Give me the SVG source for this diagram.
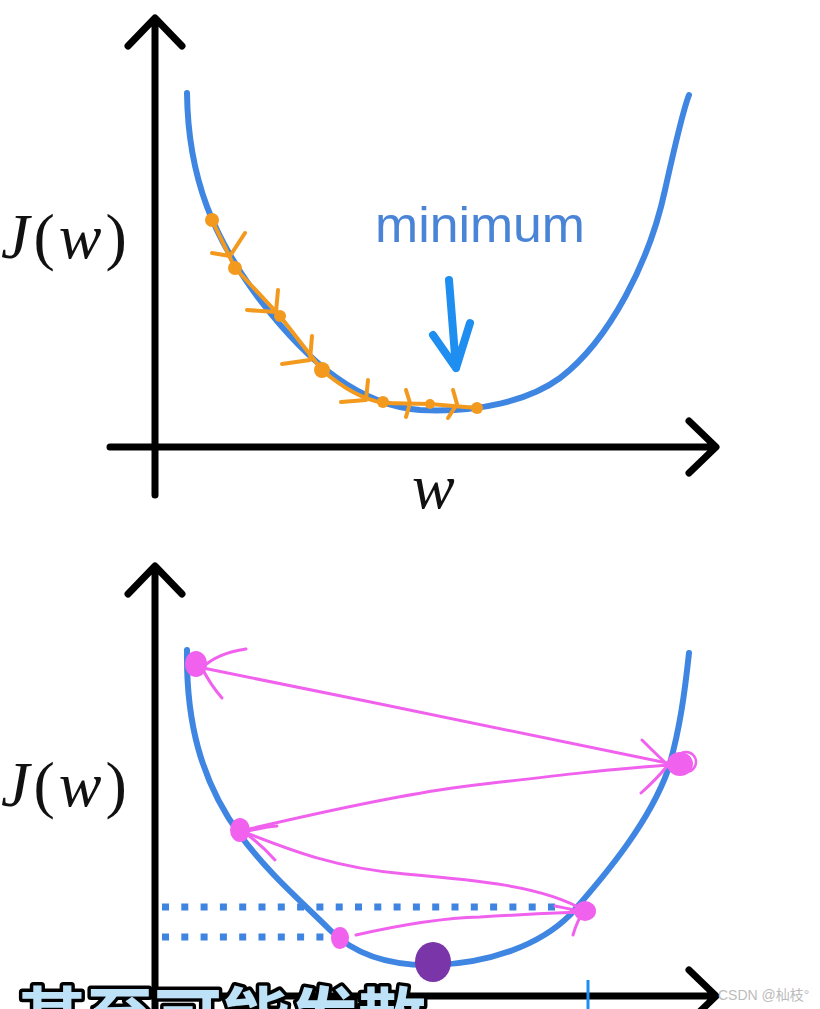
<svg xmlns="http://www.w3.org/2000/svg" width="820" height="1009" viewBox="0 0 820 1009">
<style>
.axis{fill:none;stroke:#000;stroke-width:7;stroke-linecap:round;stroke-linejoin:round}
.curve{fill:none;stroke:#3f86e2;stroke-width:6;stroke-linecap:round}
.lbl{font-family:"Liberation Serif","DejaVu Serif",serif;font-size:64px;fill:#111;letter-spacing:4px}
.org{fill:none;stroke:#f39a1e;stroke-width:4;stroke-linecap:round;stroke-linejoin:round}
.orgdot{fill:#f39a1e}
.pk{fill:none;stroke:#f062ee;stroke-width:3;stroke-linecap:round;stroke-linejoin:round}
.pkdot{fill:#f062ee}
.dots{fill:none;stroke:#3f84e0;stroke-width:7;stroke-dasharray:7 12.3}
</style>
<rect width="820" height="1009" fill="#fff"/>

<g id="top-chart">
  <g id="top-axes">
    <path class="axis" d="M155,20 L155,495 M128,46 L155,18 L182,46"/>
    <path class="axis" d="M110,447 L715,447 M689,421 L716,447 L689,473"/>
  </g>
  <text class="lbl" x="1" y="258"><tspan font-style="italic">J</tspan>(<tspan font-style="italic">w</tspan>)</text>
  <text class="lbl" x="412" y="508" font-style="italic">w</text>
  <path id="top-curve" class="curve" d="M187,93 C188,180 215,240 260,300 C310,365 360,405 420,410 C480,413 530,400 560,378 C610,340 650,260 665,190 C675,145 683,110 689,95"/>
  <g id="minimum">
    <text x="375" y="242" font-family="Liberation Sans, Arial, sans-serif" font-size="50" fill="#4a84d6" textLength="210" lengthAdjust="spacingAndGlyphs">minimum</text>
    <path d="M449,280 L456,368 M433,335 L456,368 L470,323" fill="none" stroke="#1e8ef0" stroke-width="8" stroke-linecap="round" stroke-linejoin="round"/>
  </g>
  <g id="orange-steps">
    <path class="org" d="M212,220 L235,268 L280,316 L322,370 C345,390 365,400 384,403 L430,404 L477,408"/>
    <path class="org" d="M212,253 L230,256 L245,233"/>
    <path class="org" d="M247,310 L276,312 L278,290"/>
    <path class="org" d="M282,364 L310,360 L312,336"/>
    <path class="org" d="M341,402 L366,400 L368,380"/>
    <path class="org" d="M406,390 L410,403 L406,417"/>
    <path class="org" d="M453,390 L457,404 L448,418"/>
    <circle class="orgdot" cx="212" cy="220" r="7"/>
    <circle class="orgdot" cx="235" cy="268" r="7"/>
    <circle class="orgdot" cx="280" cy="316" r="6"/>
    <circle class="orgdot" cx="322" cy="370" r="8"/>
    <circle class="orgdot" cx="383" cy="402" r="6"/>
    <circle class="orgdot" cx="430" cy="404" r="5"/>
    <circle class="orgdot" cx="477" cy="408" r="6"/>
  </g>
</g>

<g id="bottom-chart">
  <g id="bottom-axes">
    <path class="axis" d="M155,568 L155,1012 M128,594 L155,566 L182,594"/>
    <path class="axis" d="M110,996 L715,996 M689,970 L716,996 L689,1022"/>
  </g>
  <text class="lbl" x="1" y="806"><tspan font-style="italic">J</tspan>(<tspan font-style="italic">w</tspan>)</text>
  <path class="dots" d="M162,907 L560,907"/>
  <path class="dots" d="M162,937 L332,937"/>
  <path id="bottom-curve" class="curve" d="M187,650 C186,720 200,780 240,835 C270,875 300,900 330,930 C360,960 400,966 435,965 C490,963 540,945 570,915 C610,870 650,820 668,770 C680,730 685,690 689,653"/>
  <line x1="588" y1="980" x2="588" y2="1009" stroke="#1e8ef0" stroke-width="3"/>
  <g id="pink-steps">
    <path class="pk" d="M672,764 C560,740 360,700 203,668"/>
    <path class="pk" d="M246,649 C225,652 210,660 202,668 C208,680 215,690 222,698"/>
    <path class="pk" d="M245,830 C330,810 400,795 460,787 C560,775 620,768 672,765"/>
    <path class="pk" d="M642,740 C650,748 660,758 668,765 C660,775 650,785 641,793"/>
    <path class="pk" d="M585,911 C545,886 475,880 405,874 C335,868 290,850 244,832"/>
    <path class="pk" d="M277,826 C265,827 252,830 244,832 C255,840 266,850 275,860"/>
    <path class="pk" d="M356,935 C400,925 440,918 480,917 C530,914 560,913 583,912"/>
    <path class="pk" d="M555,906 C565,908 575,910 583,912 C578,920 575,928 573,935"/>
    <ellipse class="pkdot" cx="196" cy="664" rx="11" ry="13"/>
    <ellipse class="pkdot" cx="680" cy="764" rx="13" ry="12"/>
    <circle cx="686" cy="762" r="10" fill="none" stroke="#f062ee" stroke-width="2.5"/>
    <ellipse class="pkdot" cx="240" cy="830" rx="10" ry="12"/>
    <ellipse class="pkdot" cx="585" cy="911" rx="11" ry="10"/>
    <ellipse class="pkdot" cx="340" cy="938" rx="9" ry="11"/>
  </g>
  <ellipse id="purple-dot" cx="433" cy="962" rx="18" ry="20" fill="#7a35a8"/>
</g>

<text x="18" y="1044" font-family="'Noto Sans CJK SC',sans-serif" font-weight="bold" font-size="68" fill="#bde2f8" stroke="#000" stroke-width="7" paint-order="stroke" stroke-linejoin="round">甚至可能发散</text>
<text x="718" y="1000" font-family="'Liberation Sans','Noto Sans CJK SC',sans-serif" font-size="14" fill="#bbb">CSDN @杣枝°</text>
</svg>
